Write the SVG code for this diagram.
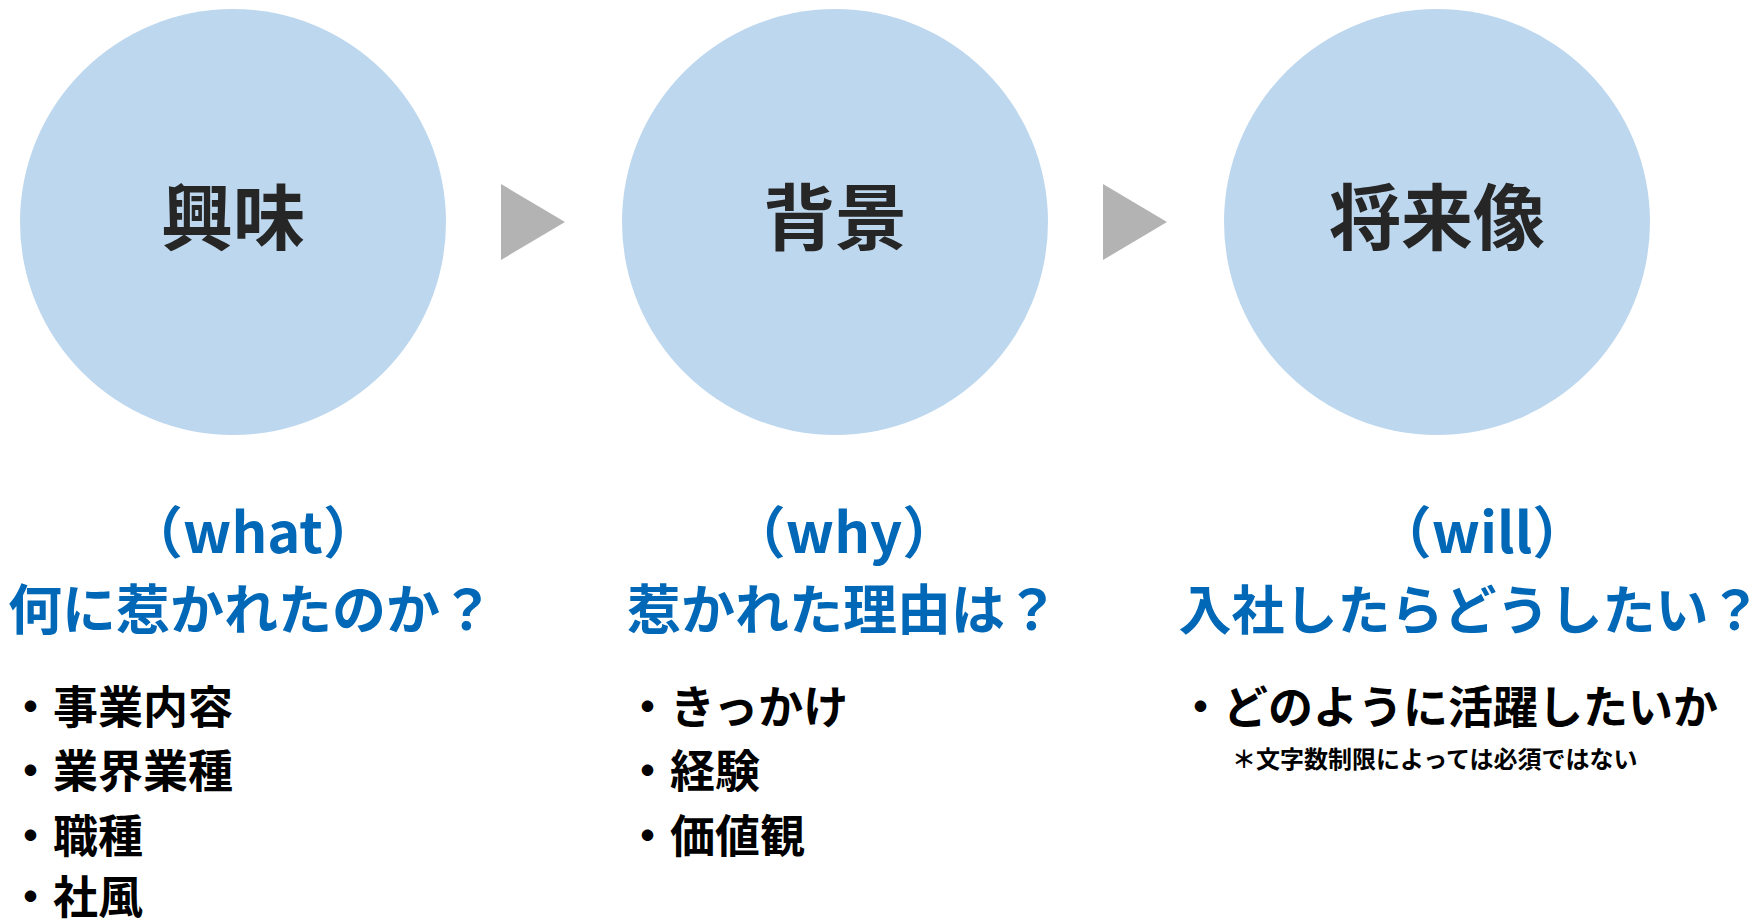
<svg xmlns="http://www.w3.org/2000/svg" width="1764" height="920" viewBox="0 0 1764 920">
  <style>
    .circ { fill: #bdd7ee; }
    .ctext { font-family: "Noto Sans CJK JP", "Noto Sans", sans-serif; font-weight: 700; font-size: 72px; fill: #262626; text-anchor: middle; }
    .paren { font-family: "Noto Sans CJK JP", "Noto Sans", sans-serif; font-weight: 700; font-size: 56px; fill: #0068b7; text-anchor: middle; }
    .q { font-family: "Noto Sans CJK JP", "Noto Sans", sans-serif; font-weight: 700; font-size: 54px; fill: #0068b7; text-anchor: middle; }
    .item { font-family: "Noto Sans CJK JP", "Noto Sans", sans-serif; font-weight: 700; font-size: 45px; fill: #000000; }
    .note { font-family: "Noto Sans CJK JP", "Noto Sans", sans-serif; font-weight: 700; font-size: 24px; fill: #000000; }
    .arrow { fill: #b3b3b3; }
  </style>
  <rect width="1764" height="920" fill="#ffffff"/>

  <g id="connectors">
    <polygon class="arrow" points="501,184 565,222 501,260"/>
    <polygon class="arrow" points="1103,184 1167,222 1103,260"/>
  </g>

  <g id="node-interest">
    <circle class="circ" cx="233" cy="222" r="213"/>
    <text class="ctext" x="233" y="244">興味</text>
  </g>
  <g id="node-background">
    <circle class="circ" cx="835" cy="222" r="213"/>
    <text class="ctext" x="835" y="244">背景</text>
  </g>
  <g id="node-future">
    <circle class="circ" cx="1437" cy="222" r="213"/>
    <text class="ctext" x="1437" y="244">将来像</text>
  </g>

  <g id="text-what">
    <text class="paren" x="253" y="553">（what）</text>
    <text class="q" x="251" y="630">何に惹かれたのか？</text>
    <text class="item" x="8" y="724">・事業内容</text>
    <text class="item" x="8" y="788">・業界業種</text>
    <text class="item" x="8" y="853">・職種</text>
    <text class="item" x="8" y="914">・社風</text>
  </g>

  <g id="text-why">
    <text class="paren" x="844" y="553">（why）</text>
    <text class="q" x="843" y="630">惹かれた理由は？</text>
    <text class="item" x="625" y="724">・きっかけ</text>
    <text class="item" x="625" y="788">・経験</text>
    <text class="item" x="625" y="853">・価値観</text>
  </g>

  <g id="text-will">
    <text class="paren" x="1482" y="553">（will）</text>
    <text class="q" x="1470" y="630" style="font-size:53px">入社したらどうしたい？</text>
    <text class="item" x="1178" y="724">・どのように活躍したいか</text>
    <text class="note" x="1232" y="768">＊文字数制限によっては必須ではない</text>
  </g>
</svg>
